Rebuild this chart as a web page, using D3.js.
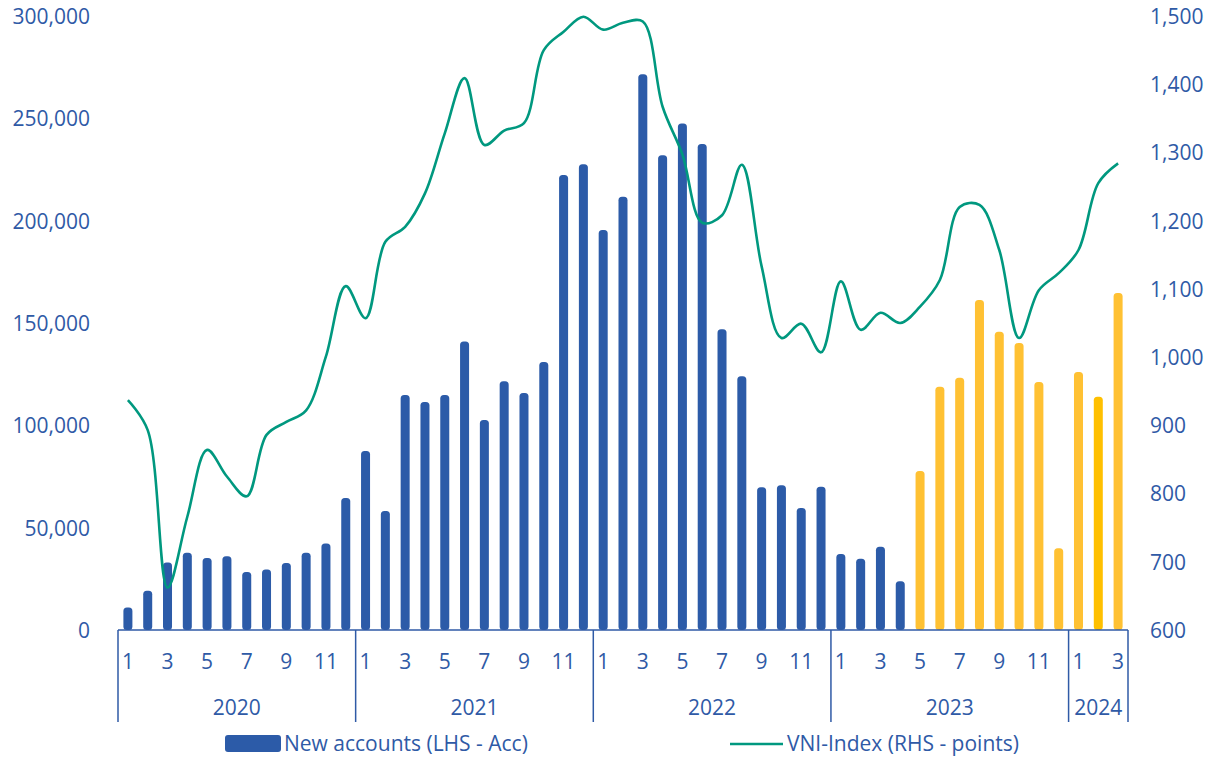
<!DOCTYPE html>
<html>
<head>
<meta charset="utf-8">
<script src="https://cdn.jsdelivr.net/npm/d3@7"></script>
<style>
  html, body { margin: 0; padding: 0; background: #ffffff; }
  svg { display: block; }
  text { font-family: "Open Sans", "Noto Sans", sans-serif; }
</style>
</head>
<body>
<svg id="chart" width="1208" height="758"></svg>
<script>
// ---- Data ----
const years = ["2020", "2021", "2022", "2023", "2024"];
const monthsPerYear = [12, 12, 12, 12, 3];

const newAccounts = [
  11000, 19200, 33000, 37800, 35200, 36000, 28300, 29500, 32700, 37800, 42300, 64500,
  87400, 58100, 114800, 111400, 114800, 141000, 102600, 121600, 115800, 131000, 222300, 227600,
  195400, 211700, 271600, 232000, 247500, 237400, 147000, 124000, 69700, 70700, 59600, 70000,
  37100, 34800, 40700, 23800, 77700, 118900, 123300, 161200, 145700, 140200, 121200, 40000,
  126000, 114000, 164600
];

const vniIndex = [
  937, 893, 662, 766, 864, 825, 796, 886, 905, 922, 1001, 1104,
  1057, 1169, 1191, 1240, 1328, 1409, 1311, 1332, 1343, 1450, 1477, 1499,
  1480, 1490, 1492, 1367, 1297, 1197, 1208, 1282, 1133, 1028, 1049, 1007,
  1111, 1040, 1065, 1050, 1074, 1113, 1220, 1223, 1157, 1028, 1098, 1123,
  1157, 1255, 1284
];

const leftTicks = [0, 50000, 100000, 150000, 200000, 250000, 300000];
const rightTicks = [600, 700, 800, 900, 1000, 1100, 1200, 1300, 1400, 1500];
const legendLabels = ["New accounts (LHS - Acc)", "VNI-Index (RHS - points)"];

// categories built from years/months
const categories = [];
years.forEach((y, yi) => {
  for (let m = 1; m <= monthsPerYear[yi]; m++) categories.push({ key: y + "-" + m, year: y, month: m });
});

// ---- Styles ----
const TEXT = "#2F5AA6";
const BLUE = "#2C5BA8";
const YELLOW = "#FFC133";
const GOLD = "#FFC000";
const GREEN = "#00987F";

const svg = d3.select("#chart");
const plotLeft = 118, plotRight = 1128, plotTop = 16, plotBottom = 630;

const x = d3.scaleBand()
  .domain(categories.map(d => d.key))
  .range([plotLeft, plotRight])
  .paddingInner(0.545)
  .paddingOuter(0.2725);

const yL = d3.scaleLinear().domain([0, 300000]).range([plotBottom, plotTop]);
const yR = d3.scaleLinear().domain([600, 1500]).range([plotBottom, plotTop]);

const firstYellow = categories.findIndex(c => c.key === "2023-5");
function barColor(i) {
  if (categories[i].key === "2024-2") return GOLD;
  if (i >= firstYellow) return YELLOW;
  return BLUE;
}

// Bars
svg.append("g").selectAll("rect")
  .data(newAccounts)
  .join("rect")
  .attr("x", (d, i) => x(categories[i].key))
  .attr("width", x.bandwidth())
  .attr("y", d => yL(d))
  .attr("height", d => yL(0) - yL(d))
  .attr("rx", 3.5)
  .attr("fill", (d, i) => barColor(i));

// Line
const line = d3.line()
  .x((d, i) => x(categories[i].key) + x.bandwidth() / 2)
  .y(d => yR(d))
  .curve(d3.curveCatmullRom.alpha(0.5));

svg.append("path")
  .datum(vniIndex)
  .attr("d", line)
  .attr("fill", "none")
  .attr("stroke", GREEN)
  .attr("stroke-width", 2.6)
  .attr("stroke-linejoin", "round");

// Left axis
const axL = svg.append("g")
  .attr("transform", "translate(90,0)")
  .call(d3.axisLeft(yL).tickValues(leftTicks).tickFormat(d3.format(",")).tickSize(0).tickPadding(0));
axL.select(".domain").remove();
axL.selectAll("text")
  .attr("fill", TEXT)
  .attr("font-size", 21)
  .attr("dy", "0.35em")
  .style("font-family", "'Open Sans', sans-serif");

// Right axis
const axR = svg.append("g")
  .attr("transform", "translate(1150,0)")
  .call(d3.axisRight(yR).tickValues(rightTicks).tickFormat(d3.format(",")).tickSize(0).tickPadding(0));
axR.select(".domain").remove();
axR.selectAll("text")
  .attr("fill", TEXT)
  .attr("font-size", 21)
  .attr("dy", "0.35em")
  .style("font-family", "'Open Sans', sans-serif");

// X axis baseline
const axisG = svg.append("g");
axisG.append("line")
  .attr("x1", plotLeft).attr("x2", plotRight)
  .attr("y1", plotBottom).attr("y2", plotBottom)
  .attr("stroke", TEXT).attr("stroke-width", 1.5);

// Year separators
const boundaries = [plotLeft];
let idx = 0;
monthsPerYear.forEach(n => {
  idx += n;
  boundaries.push(idx >= categories.length ? plotRight : x(categories[idx].key) - x.step() * x.paddingInner() / 2);
});
axisG.selectAll("line.sep")
  .data(boundaries)
  .join("line")
  .attr("class", "sep")
  .attr("x1", d => d).attr("x2", d => d)
  .attr("y1", plotBottom).attr("y2", 722)
  .attr("stroke", TEXT).attr("stroke-width", 1.5);

// Month labels (odd months)
axisG.selectAll("text.month")
  .data(categories.filter(c => c.month % 2 === 1))
  .join("text")
  .attr("class", "month")
  .attr("x", d => x(d.key) + x.bandwidth() / 2)
  .attr("y", 662)
  .attr("dy", "0.35em")
  .attr("text-anchor", "middle")
  .attr("font-size", 21)
  .attr("fill", TEXT)
  .text(d => d.month);

// Year labels
axisG.selectAll("text.year")
  .data(years)
  .join("text")
  .attr("class", "year")
  .attr("x", (d, i) => (boundaries[i] + boundaries[i + 1]) / 2)
  .attr("y", 708)
  .attr("dy", "0.35em")
  .attr("text-anchor", "middle")
  .attr("font-size", 21)
  .attr("fill", TEXT)
  .text(d => d);

// Legend
const lg = svg.append("g");
lg.append("rect")
  .attr("x", 225).attr("y", 735).attr("width", 56).attr("height", 17)
  .attr("rx", 3).attr("fill", BLUE);
lg.append("text")
  .attr("x", 284).attr("y", 744).attr("dy", "0.35em")
  .attr("font-size", 21).attr("fill", TEXT)
  .text(legendLabels[0]);
lg.append("line")
  .attr("x1", 730).attr("x2", 783).attr("y1", 744).attr("y2", 744)
  .attr("stroke", GREEN).attr("stroke-width", 2.6);
lg.append("text")
  .attr("x", 787).attr("y", 744).attr("dy", "0.35em")
  .attr("font-size", 21).attr("fill", TEXT)
  .text(legendLabels[1]);
</script>
</body>
</html>
